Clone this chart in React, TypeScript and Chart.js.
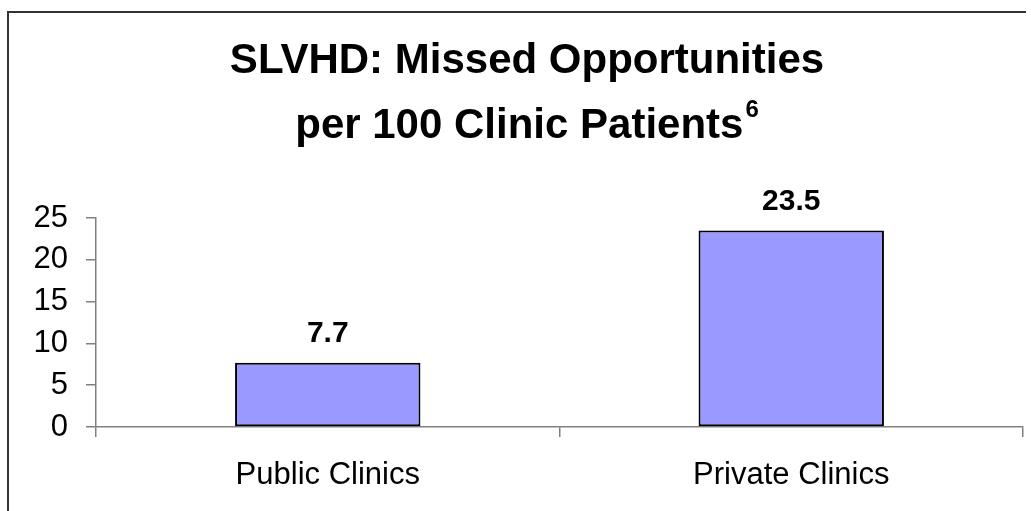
import React, { useEffect, useRef } from 'react';
import { Chart, registerables } from 'chart.js';

Chart.register(...registerables);

// ---- data ----
const categories: string[] = ['Public Clinics', 'Private Clinics'];
const values: number[] = [7.7, 23.5];
const titleLines: string[] = ['SLVHD: Missed Opportunities', 'per 100 Clinic Patients'];
const titleSuperscript = '6';
const yMin = 0;
const yMax = 25;
const yStep = 5;

const FONT = "'Liberation Sans', Arial, Helvetica, sans-serif";
const AXIS_COLOR = '#808080';

export default function App() {
  const ref = useRef<HTMLCanvasElement>(null);

  useEffect(() => {
    if (!ref.current) return;

    const decorPlugin = {
      id: 'decor',
      afterDraw(chart: any) {
        const ctx = chart.ctx as CanvasRenderingContext2D;
        ctx.save();
        // frame (left + top)
        ctx.strokeStyle = '#333333';
        ctx.lineWidth = 2;
        ctx.beginPath();
        ctx.moveTo(8, 511);
        ctx.lineTo(8, 12);
        ctx.lineTo(1026, 12);
        ctx.stroke();

        // title
        ctx.fillStyle = '#000000';
        ctx.textBaseline = 'alphabetic';
        ctx.font = `bold 42px ${FONT}`;
        ctx.textAlign = 'center';
        ctx.fillText(titleLines[0], 527, 73);

        ctx.font = `bold 42px ${FONT}`;
        const w2 = ctx.measureText(titleLines[1]).width;
        ctx.font = `bold 24px ${FONT}`;
        const ws = ctx.measureText(titleSuperscript).width;
        const start = 527 - (w2 + 2 + ws) / 2;
        ctx.textAlign = 'left';
        ctx.font = `bold 42px ${FONT}`;
        ctx.fillText(titleLines[1], start, 138);
        ctx.font = `bold 24px ${FONT}`;
        ctx.fillText(titleSuperscript, start + w2 + 2, 117);

        // value labels
        const meta = chart.getDatasetMeta(0);
        ctx.font = `bold 30px ${FONT}`;
        ctx.textAlign = 'center';
        meta.data.forEach((el: any, i: number) => {
          ctx.fillText(values[i].toFixed(1), el.x, el.y - 21);
        });
        ctx.restore();
      },
    };

    const chart = new Chart(ref.current, {
      type: 'bar',
      data: {
        labels: categories,
        datasets: [
          {
            data: values,
            backgroundColor: '#9999ff',
            borderColor: '#000000',
            borderWidth: 2,
            borderSkipped: false,
            barPercentage: 0.4,
            categoryPercentage: 1,
          },
        ],
      },
      options: {
        responsive: false,
        animation: false,
        layout: { padding: { top: 218, left: 0, right: 8, bottom: 0 } },
        plugins: {
          legend: { display: false },
          title: { display: false },
          tooltip: { enabled: false },
        },
        scales: {
          x: {
            grid: {
              offset: true,
              drawOnChartArea: false,
              drawTicks: true,
              tickLength: 10,
              color: AXIS_COLOR,
              lineWidth: 1.5,
            },
            border: { display: true, color: AXIS_COLOR, width: 1.5 },
            ticks: {
              color: '#000000',
              font: { family: FONT, size: 31 },
              padding: 20,
              maxRotation: 0,
            },
            afterFit: (s: any) => {
              s.height = 84;
            },
          },
          y: {
            min: yMin,
            max: yMax,
            ticks: {
              stepSize: yStep,
              color: '#000000',
              font: { family: FONT, size: 31 },
              padding: 18,
            },
            grid: {
              drawOnChartArea: false,
              drawTicks: true,
              tickLength: 10,
              color: AXIS_COLOR,
              lineWidth: 1.5,
            },
            border: { display: true, color: AXIS_COLOR, width: 1.5 },
            afterFit: (s: any) => {
              s.width = 96;
            },
          },
        },
      },
      plugins: [decorPlugin],
    });

    return () => chart.destroy();
  }, []);

  return (
    <canvas
      ref={ref}
      width={1031}
      height={511}
      style={{ position: 'absolute', left: 0, top: 0, display: 'block' }}
    />
  );
}
